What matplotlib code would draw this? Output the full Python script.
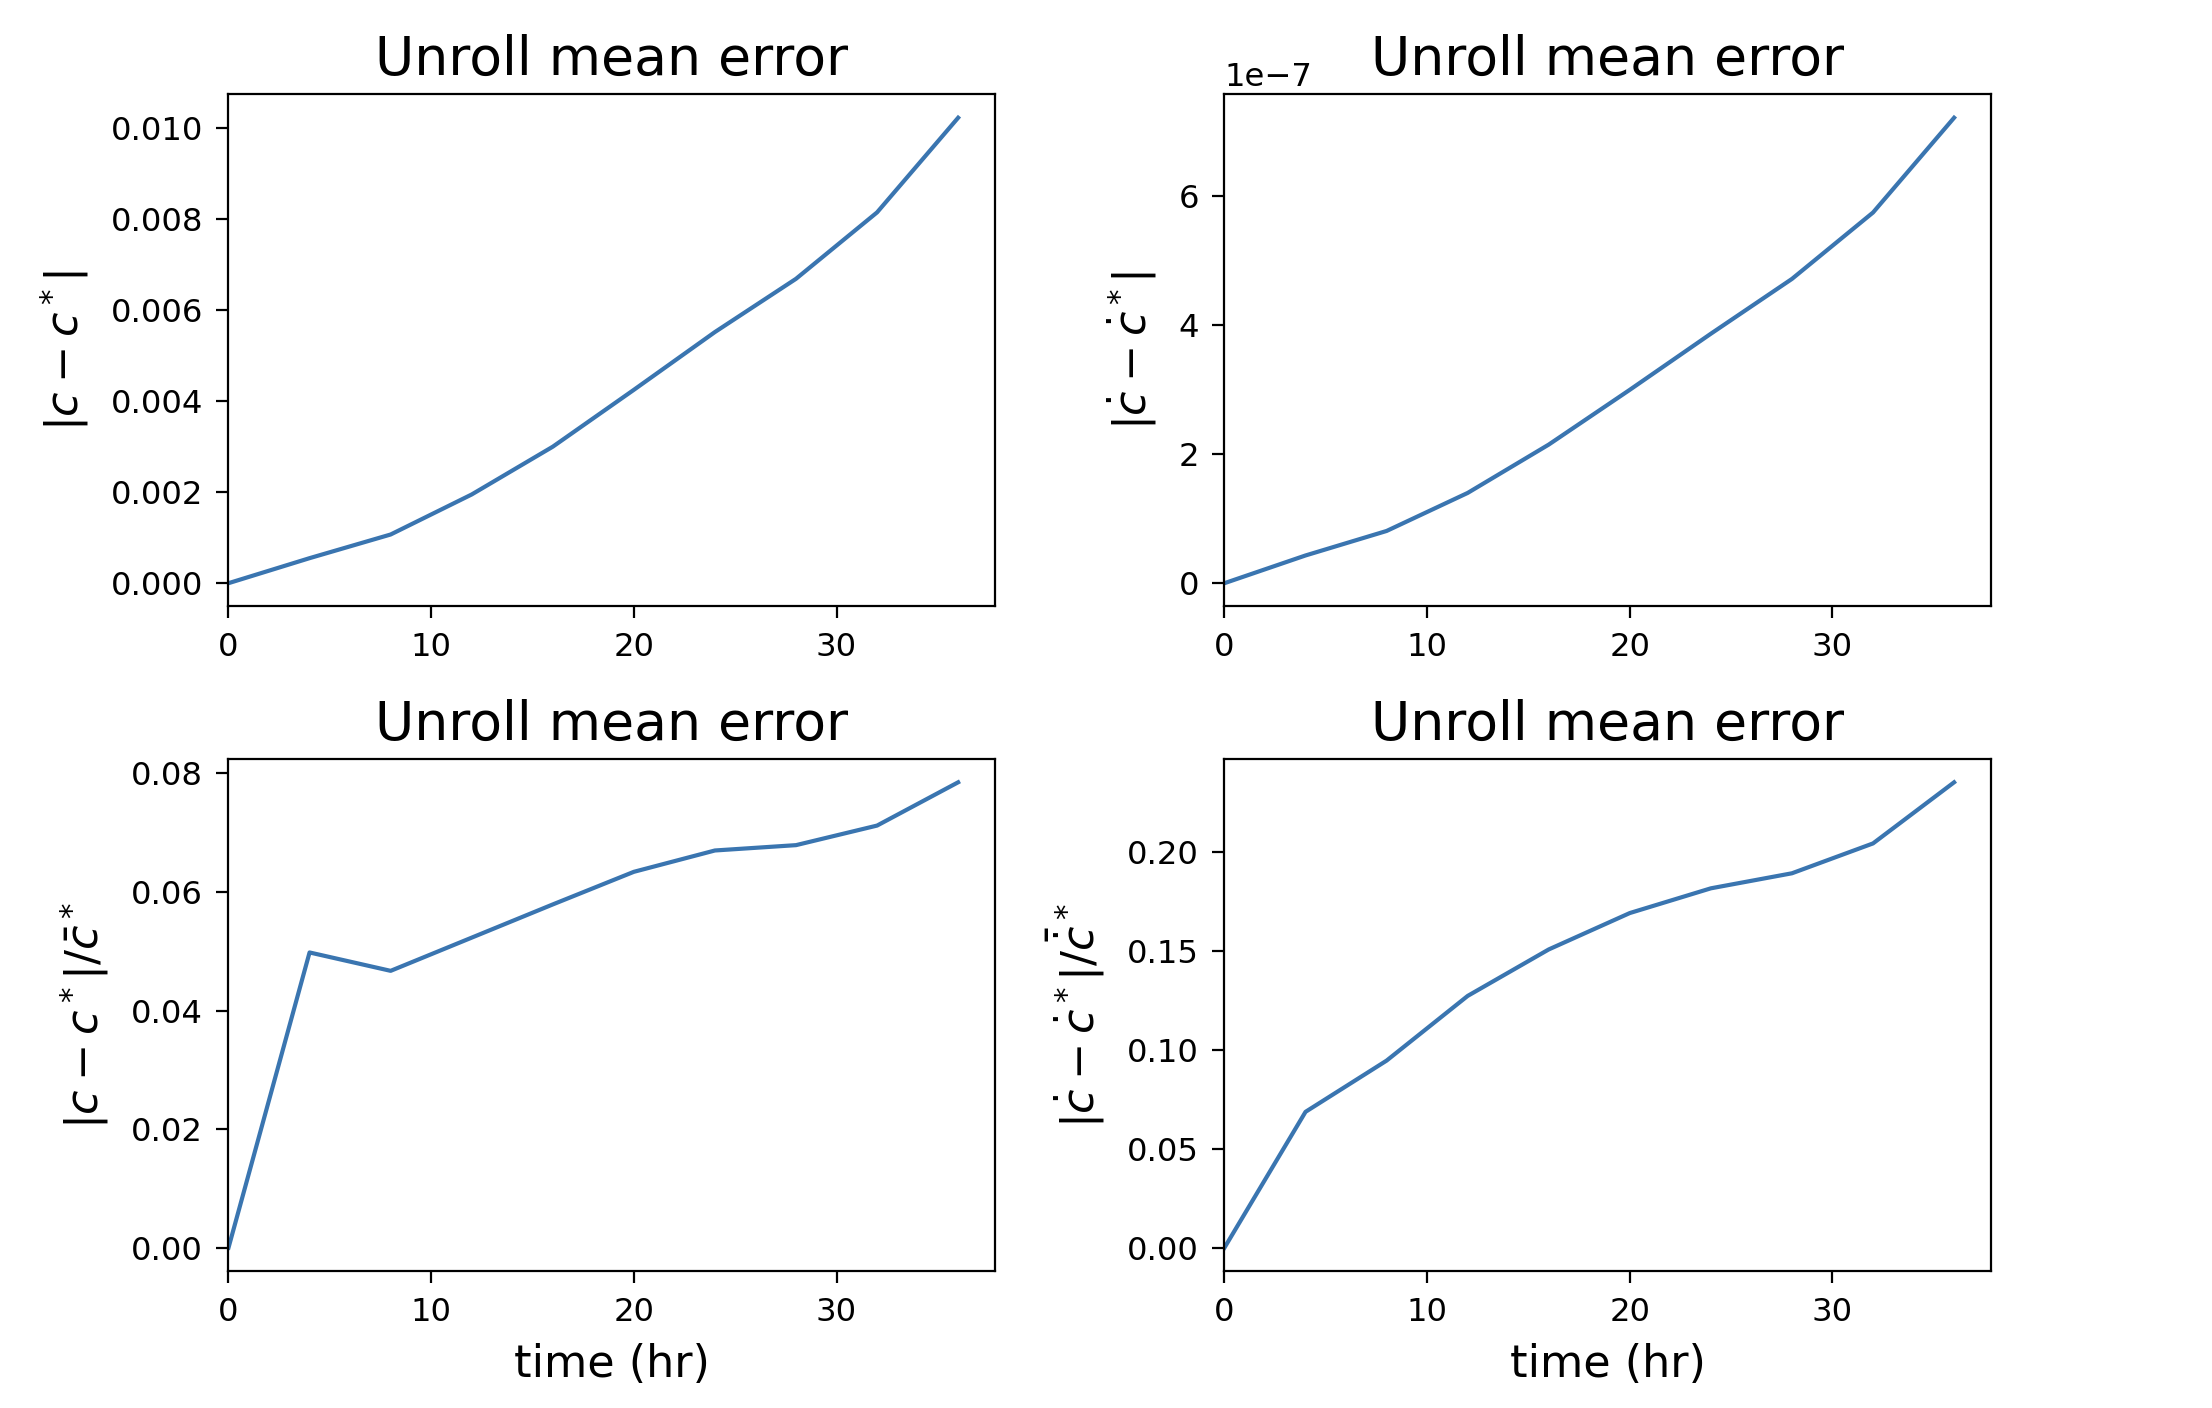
import numpy as np
import matplotlib.pyplot as plt

# time points (hr)
t = np.arange(0, 37, 4)

# absolute error of c
err_c = [0.0, 0.00055, 0.00107, 0.00195, 0.0030, 0.00425, 0.00552, 0.00669, 0.00815, 0.01023]
# absolute error of c dot
err_cdot = [0.0, 0.43e-7, 0.81e-7, 1.40e-7, 2.15e-7, 3.00e-7, 3.87e-7, 4.72e-7, 5.75e-7, 7.22e-7]
# relative error of c
rel_c = [0.0, 0.0498, 0.0467, 0.0523, 0.0579, 0.0634, 0.0670, 0.0679, 0.0712, 0.0785]
# relative error of c dot
rel_cdot = [0.0, 0.0687, 0.0946, 0.1273, 0.1508, 0.1692, 0.1817, 0.1893, 0.2044, 0.2353]

series = [err_c, err_cdot, rel_c, rel_cdot]
ylabels = [r'$|c - c^*|$',
           r'$|\dot{c} - \dot{c}^*|$',
           r'$|c - c^*|/\bar{c}^*$',
           r'$|\dot{c} - \dot{c}^*|/\bar{\dot{c}}^*$']

plt.rcParams['xtick.labelsize'] = 11.6
plt.rcParams['ytick.labelsize'] = 11.6
plt.rcParams['xtick.major.size'] = 4.2
plt.rcParams['ytick.major.size'] = 4.2
plt.rcParams['xtick.major.pad'] = 5
plt.rcParams['ytick.major.pad'] = 5
plt.rcParams['axes.formatter.offset_threshold'] = 4

fig, axes = plt.subplots(2, 2, figsize=(11.06, 7.04), dpi=200)
fig.subplots_adjust(left=0.1033, right=0.8999, top=0.9329, bottom=0.0973,
                    wspace=0.30, hspace=0.298)

for i, ax in enumerate(axes.flat):
    ax.plot(t, series[i], color='#3a75b0', linewidth=1.5)
    ax.set_xlim(left=0)
    ax.set_title('Unroll mean error', fontsize=19.3, pad=7)
    ax.set_ylabel(ylabels[i], fontsize=16, labelpad=7)
    ax.yaxis.get_offset_text().set_fontsize(11.6)
    if i >= 2:
        ax.set_xlabel('time (hr)', fontsize=16, labelpad=5.5)

plt.savefig('out.png')
